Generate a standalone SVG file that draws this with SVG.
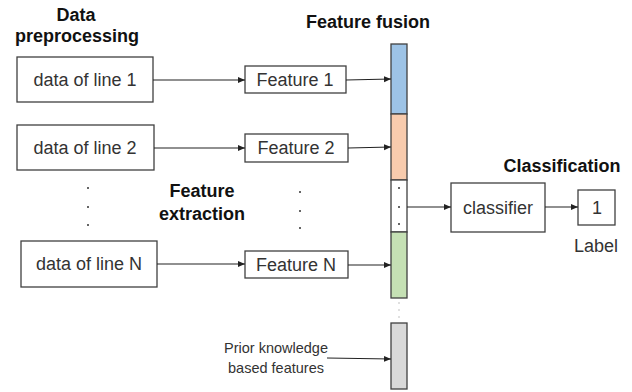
<svg xmlns="http://www.w3.org/2000/svg" width="632" height="392" viewBox="0 0 632 392">
<style>
.box{fill:#fff;stroke:#404040;stroke-width:1.3}
.bar{stroke:#404040;stroke-width:1.3}
.t{font-family:"Liberation Sans",Arial,sans-serif;font-size:18px;fill:#333;text-anchor:middle}
.h{font-family:"Liberation Sans",Arial,sans-serif;font-size:18px;font-weight:bold;fill:#111;text-anchor:middle}
.s{font-family:"Liberation Sans",Arial,sans-serif;font-size:14.5px;fill:#333;text-anchor:middle}
.c{stroke:#222;stroke-width:1.1;fill:none;marker-end:url(#a)}
.dot{fill:#333}
.gd{fill:#aaa}
</style>
<defs>
<marker id="a" markerWidth="8" markerHeight="8" refX="7" refY="4" orient="auto" markerUnits="userSpaceOnUse">
<path d="M0,1 L7,4 L0,7 z" fill="#222"/>
</marker>
</defs>
<g id="headings">
<text class="h" x="76" y="21">Data</text>
<text class="h" x="77" y="42">preprocessing</text>
<text class="h" x="368" y="28">Feature fusion</text>
<text class="h" x="202" y="197">Feature</text>
<text class="h" x="202" y="220">extraction</text>
<text class="h" x="562" y="172">Classification</text>
</g>
<g id="data1"><rect class="box" x="17" y="57" width="136" height="45"/><text class="t" x="85" y="86">data of line 1</text></g>
<g id="data2"><rect class="box" x="17" y="125" width="137" height="45"/><text class="t" x="85" y="154">data of line 2</text></g>
<g id="dataN"><rect class="box" x="21" y="241" width="136" height="46"/><text class="t" x="89" y="270">data of line N</text></g>
<g id="feat1"><rect class="box" x="245" y="66" width="101" height="27"/><text class="t" x="295" y="86">Feature 1</text></g>
<g id="feat2"><rect class="box" x="245" y="134" width="103" height="28"/><text class="t" x="296" y="154">Feature 2</text></g>
<g id="featN"><rect class="box" x="245" y="251" width="103" height="27"/><text class="t" x="296" y="271">Feature N</text></g>
<g id="dots">
<circle class="dot" cx="88" cy="188" r="1"/><circle class="dot" cx="88" cy="207" r="1"/><circle class="dot" cx="88" cy="225" r="1"/>
<circle class="dot" cx="300" cy="192" r="1"/><circle class="dot" cx="300" cy="211" r="1"/><circle class="dot" cx="300" cy="228" r="1"/>
</g>
<g id="fusion">
<rect class="bar" x="391" y="44" width="16" height="70" fill="#9DC3E6"/>
<rect class="bar" x="391" y="114" width="16" height="66" fill="#F8CBAD"/>
<rect class="bar" x="391" y="180" width="16" height="52" fill="#fff"/>
<rect class="bar" x="391" y="232" width="16" height="66" fill="#C5E0B4"/>
<circle class="dot" cx="399" cy="188" r="1"/><circle class="dot" cx="399" cy="207" r="1"/><circle class="dot" cx="399" cy="224" r="1"/>
<circle class="gd" cx="399" cy="303" r="0.7"/><circle class="gd" cx="399" cy="310" r="0.7"/><circle class="gd" cx="399" cy="317" r="0.7"/>
</g>
<g id="prior">
<rect class="bar" x="391" y="323" width="16" height="66" fill="#D9D9D9"/>
<text class="s" x="276" y="353">Prior knowledge</text>
<text class="s" x="276" y="373">based features</text>
</g>
<g id="classifier"><rect class="box" x="451" y="183" width="94" height="49"/><text class="t" x="498" y="214">classifier</text></g>
<g id="label"><rect class="box" x="578" y="190" width="37" height="35"/><text class="t" x="597" y="214">1</text><text class="t" x="596" y="252">Label</text></g>
<g id="connectors">
<path class="c" d="M153,80 L245,80"/>
<path class="c" d="M154,148 L245,148"/>
<path class="c" d="M157,264 L245,264"/>
<path class="c" d="M346,80 L391,79"/>
<path class="c" d="M348,148 L391,147"/>
<path class="c" d="M348,265 L391,265"/>
<path class="c" d="M327,358 L391,359"/>
<path class="c" d="M407,207 L451,207"/>
<path class="c" d="M545,207 L578,207"/>
</g>
</svg>
